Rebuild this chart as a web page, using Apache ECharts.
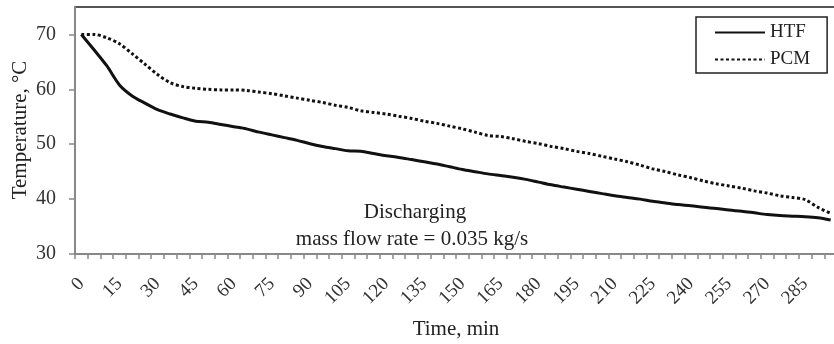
<!DOCTYPE html>
<html>
<head>
<meta charset="utf-8">
<script src="https://cdn.jsdelivr.net/npm/echarts@6/dist/echarts.min.js"></script>
<style>html,body{margin:0;padding:0;background:#fff;}#c{width:834px;height:344px;}</style>
</head>
<body>
<div id="c"></div>
<script>
// Time categories (min), every 5 minutes
const times = [];
for (let t = 0; t <= 295; t += 5) times.push(String(t));
const yTicks = [30, 40, 50, 60, 70];
const htf = [70.0,67.2,64.3,60.8,58.8,57.5,56.3,55.5,54.8,54.2,
             54.0,53.6,53.2,52.8,52.2,51.7,51.2,50.7,50.1,49.6,
             49.2,48.8,48.7,48.3,47.9,47.6,47.2,46.8,46.4,45.9,
             45.4,45.0,44.6,44.3,44.0,43.6,43.1,42.6,42.2,41.8,
             41.4,41.0,40.6,40.3,40.0,39.6,39.3,39.0,38.8,38.5,
             38.3,38.0,37.8,37.5,37.2,37.0,36.9,36.8,36.6,36.2];
const pcm = [70.0,70.0,69.4,68.3,66.5,64.6,62.7,61.2,60.5,60.2,
             60.0,59.9,59.9,59.8,59.5,59.2,58.8,58.4,58.0,57.6,
             57.1,56.7,56.1,55.8,55.5,55.1,54.7,54.2,53.8,53.3,
             52.8,52.2,51.6,51.4,51.0,50.5,50.1,49.6,49.2,48.7,
             48.3,47.8,47.3,46.8,46.2,45.5,45.0,44.4,43.9,43.3,
             42.8,42.4,42.0,41.5,41.1,40.6,40.3,39.9,38.5,37.4];
const seriesNames = ['HTF', 'PCM'];
const noteLines = ['Discharging', 'mass flow rate = 0.035 kg/s'];

const serif = 'Liberation Serif';
const chart = echarts.init(document.getElementById('c'), null, {renderer: 'canvas'});
chart.setOption({
  animation: false,
  backgroundColor: '#fff',
  textStyle: {fontFamily: serif},
  grid: {left: 75, top: 7, right: -3, bottom: 90, outerBoundsMode: 'none', containLabel: false,
         show: true, borderColor: '#555', borderWidth: 2, backgroundColor: 'transparent'},
  legend: {
    data: seriesNames,
    orient: 'vertical',
    left: 696, top: 17,
    itemWidth: 50, itemHeight: 19, itemGap: 8,
    padding: [6, 17, 4, 18],
    borderColor: '#222', borderWidth: 1.5,
    itemStyle: {opacity: 0},
    textStyle: {fontFamily: serif, fontSize: 19, color: '#222'}
  },
  xAxis: {
    type: 'category',
    data: times,
    boundaryGap: true,
    name: 'Time, min',
    nameLocation: 'middle',
    nameGap: 65,
    nameTextStyle: {fontFamily: serif, fontSize: 21, color: '#222'},
    axisLine: {lineStyle: {color: '#888', width: 2}},
    axisTick: {show: true, interval: 0, length: 5, lineStyle: {color: '#888', width: 1.5}},
    axisLabel: {interval: 2, rotate: 45, margin: 27, fontFamily: serif, fontSize: 19, color: '#333'},
    splitLine: {show: false}
  },
  yAxis: {
    type: 'value',
    min: 30, max: 75, interval: 10,
    axisLine: {show: true, lineStyle: {color: '#888', width: 2}},
    axisTick: {show: true, length: 6, customValues: yTicks, lineStyle: {color: '#888', width: 1.5}},
    axisLabel: {margin: 19, customValues: yTicks, fontFamily: serif, fontSize: 20, color: '#333'},
    splitLine: {show: false}
  },
  graphic: [
    {type: 'text', rotation: Math.PI / 2, x: 20, y: 130,
     style: {text: 'Temperature, °C', font: '21px "Liberation Serif"', fill: '#222', textAlign: 'center', textVerticalAlign: 'middle'}},
    {type: 'text', x: 415, y: 212,
     style: {text: noteLines[0], font: '21px "Liberation Serif"', fill: '#222', textAlign: 'center', textVerticalAlign: 'middle'}},
    {type: 'text', x: 412, y: 239,
     style: {text: noteLines[1], font: '21px "Liberation Serif"', fill: '#222', textAlign: 'center', textVerticalAlign: 'middle'}}
  ],
  series: [
    {name: seriesNames[0], type: 'line', data: htf, symbol: 'none', smooth: 0.3,
     lineStyle: {color: '#111', width: 3, type: 'solid'}, itemStyle: {color: '#111'}},
    {name: seriesNames[1], type: 'line', data: pcm, symbol: 'none', smooth: 0.3,
     lineStyle: {color: '#111', width: 3, type: [3, 2.5]}, itemStyle: {color: '#111'}}
  ]
});
</script>
</body>
</html>
